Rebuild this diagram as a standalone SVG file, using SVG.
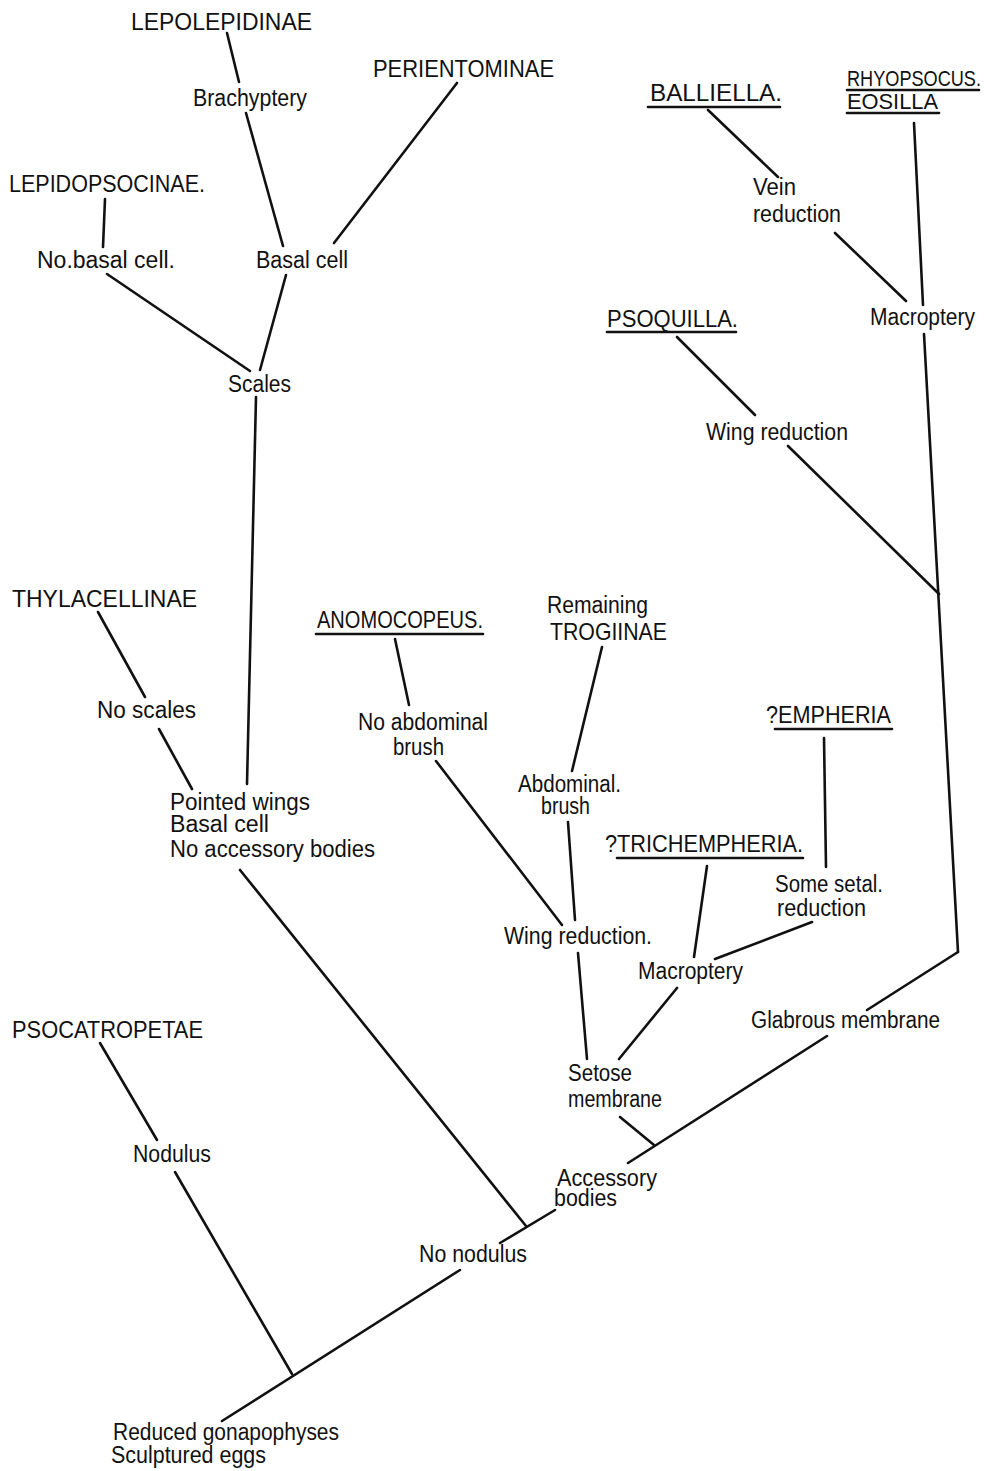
<svg xmlns="http://www.w3.org/2000/svg" width="998" height="1471" viewBox="0 0 998 1471">
<style>
text{font-family:"Liberation Sans","DejaVu Sans",sans-serif;fill:#111;}
.c{font-size:24px;}
.l{font-size:23px;}
.s{font-size:22px;}
.e line,.u{stroke:#111;stroke-width:2.6;stroke-linecap:round;fill:none;}
</style>
<rect width="998" height="1471" fill="#fff"/>
<g id="connectors" class="e">
<line x1="227" y1="33" x2="239" y2="82"/>
<line x1="246" y1="113" x2="283" y2="246"/>
<line x1="457" y1="83" x2="334" y2="243"/>
<line x1="105" y1="199" x2="103" y2="247"/>
<line x1="107" y1="274" x2="250" y2="371"/>
<line x1="286" y1="275" x2="260" y2="370"/>
<line x1="256" y1="397" x2="247" y2="784"/>
<line x1="708" y1="110" x2="778" y2="177"/>
<line x1="835" y1="233" x2="906" y2="301"/>
<line x1="914" y1="123" x2="923" y2="305"/>
<line x1="924" y1="334" x2="958" y2="952"/>
<line x1="677" y1="337" x2="755" y2="415"/>
<line x1="788" y1="446" x2="939" y2="594"/>
<line x1="98" y1="612" x2="145" y2="697"/>
<line x1="159" y1="729" x2="192" y2="789"/>
<line x1="395" y1="639" x2="409" y2="705"/>
<line x1="436" y1="761" x2="562" y2="925"/>
<line x1="602" y1="647" x2="572" y2="771"/>
<line x1="568" y1="822" x2="575" y2="920"/>
<line x1="578" y1="953" x2="587" y2="1059"/>
<line x1="824" y1="738" x2="826" y2="867"/>
<line x1="707" y1="866" x2="694" y2="957"/>
<line x1="812" y1="922" x2="715" y2="959"/>
<line x1="677" y1="988" x2="619" y2="1059"/>
<line x1="958" y1="952" x2="867" y2="1010"/>
<line x1="827" y1="1036" x2="628" y2="1163"/>
<line x1="620" y1="1117" x2="654" y2="1145"/>
<line x1="240" y1="870" x2="526" y2="1226"/>
<line x1="555" y1="1210" x2="500" y2="1243"/>
<line x1="460" y1="1270" x2="222" y2="1421"/>
<line x1="100" y1="1043" x2="157" y2="1140"/>
<line x1="175" y1="1172" x2="292" y2="1374"/>
</g>
<g id="lepolepidinae"><text class="c" x="131" y="30" textLength="181" lengthAdjust="spacingAndGlyphs">LEPOLEPIDINAE</text></g>
<g id="brachyptery"><text class="l" x="193" y="106" textLength="114" lengthAdjust="spacingAndGlyphs">Brachyptery</text></g>
<g id="perientominae"><text class="c" x="373" y="77" textLength="181" lengthAdjust="spacingAndGlyphs">PERIENTOMINAE</text></g>
<g id="lepidopsocinae"><text class="c" x="9" y="192" textLength="196" lengthAdjust="spacingAndGlyphs">LEPIDOPSOCINAE.</text></g>
<g id="no-basal-cell"><text class="l" x="37" y="268" textLength="138" lengthAdjust="spacingAndGlyphs">No.basal cell.</text></g>
<g id="basal-cell"><text class="l" x="256" y="268" textLength="92" lengthAdjust="spacingAndGlyphs">Basal cell</text></g>
<g id="scales"><text class="l" x="228" y="392" textLength="63" lengthAdjust="spacingAndGlyphs">Scales</text></g>
<g id="balliella"><text class="c" x="650" y="101" textLength="132" lengthAdjust="spacingAndGlyphs">BALLIELLA.</text><line class="u" x1="648" y1="107" x2="780" y2="107"/></g>
<g id="rhyopsocus-eosilla"><text class="s" x="847" y="86" textLength="134" lengthAdjust="spacingAndGlyphs">RHYOPSOCUS.</text><line class="u" x1="847" y1="90" x2="979" y2="90"/><text class="s" x="847" y="109" textLength="91" lengthAdjust="spacingAndGlyphs">EOSILLA</text><line class="u" x1="847" y1="113" x2="939" y2="113"/></g>
<g id="vein-reduction"><text class="l" x="753" y="195" textLength="43" lengthAdjust="spacingAndGlyphs">Vein</text><text class="l" x="753" y="222" textLength="88" lengthAdjust="spacingAndGlyphs">reduction</text></g>
<g id="macroptery-1"><text class="l" x="870" y="325" textLength="105" lengthAdjust="spacingAndGlyphs">Macroptery</text></g>
<g id="psoquilla"><text class="c" x="607" y="327" textLength="131" lengthAdjust="spacingAndGlyphs">PSOQUILLA.</text><line class="u" x1="607" y1="332" x2="736" y2="332"/></g>
<g id="wing-reduction-1"><text class="l" x="706" y="440" textLength="142" lengthAdjust="spacingAndGlyphs">Wing reduction</text></g>
<g id="thylacellinae"><text class="c" x="12" y="607" textLength="185" lengthAdjust="spacingAndGlyphs">THYLACELLINAE</text></g>
<g id="anomocopeus"><text class="c" x="317" y="628" textLength="166" lengthAdjust="spacingAndGlyphs">ANOMOCOPEUS.</text><line class="u" x1="316" y1="634" x2="483" y2="634"/></g>
<g id="trogiinae"><text class="l" x="547" y="613" textLength="101" lengthAdjust="spacingAndGlyphs">Remaining</text><text class="c" x="550" y="640" textLength="117" lengthAdjust="spacingAndGlyphs">TROGIINAE</text></g>
<g id="no-scales"><text class="l" x="97" y="718" textLength="99" lengthAdjust="spacingAndGlyphs">No scales</text></g>
<g id="no-abdominal-brush"><text class="l" x="358" y="730" textLength="130" lengthAdjust="spacingAndGlyphs">No abdominal</text><text class="l" x="393" y="755" textLength="51" lengthAdjust="spacingAndGlyphs">brush</text></g>
<g id="empheria"><text class="c" x="766" y="723" textLength="125" lengthAdjust="spacingAndGlyphs">?EMPHERIA</text><line class="u" x1="775" y1="729" x2="892" y2="729"/></g>
<g id="abdominal-brush"><text class="l" x="518" y="792" textLength="103" lengthAdjust="spacingAndGlyphs">Abdominal.</text><text class="l" x="541" y="814" textLength="49" lengthAdjust="spacingAndGlyphs">brush</text></g>
<g id="pointed-wings"><text class="l" x="170" y="810" textLength="140" lengthAdjust="spacingAndGlyphs">Pointed wings</text><text class="l" x="170" y="832" textLength="99" lengthAdjust="spacingAndGlyphs">Basal cell</text><text class="l" x="170" y="857" textLength="205" lengthAdjust="spacingAndGlyphs">No accessory bodies</text></g>
<g id="trichempheria"><text class="c" x="605" y="852" textLength="198" lengthAdjust="spacingAndGlyphs">?TRICHEMPHERIA.</text><line class="u" x1="617" y1="858" x2="803" y2="858"/></g>
<g id="some-setal-reduction"><text class="l" x="775" y="892" textLength="108" lengthAdjust="spacingAndGlyphs">Some setal.</text><text class="l" x="777" y="916" textLength="89" lengthAdjust="spacingAndGlyphs">reduction</text></g>
<g id="wing-reduction-2"><text class="l" x="504" y="944" textLength="148" lengthAdjust="spacingAndGlyphs">Wing reduction.</text></g>
<g id="macroptery-2"><text class="l" x="638" y="979" textLength="105" lengthAdjust="spacingAndGlyphs">Macroptery</text></g>
<g id="glabrous-membrane"><text class="l" x="751" y="1028" textLength="189" lengthAdjust="spacingAndGlyphs">Glabrous membrane</text></g>
<g id="psocatropetae"><text class="c" x="12" y="1038" textLength="191" lengthAdjust="spacingAndGlyphs">PSOCATROPETAE</text></g>
<g id="setose-membrane"><text class="l" x="568" y="1081" textLength="64" lengthAdjust="spacingAndGlyphs">Setose</text><text class="l" x="568" y="1107" textLength="94" lengthAdjust="spacingAndGlyphs">membrane</text></g>
<g id="nodulus"><text class="l" x="133" y="1162" textLength="78" lengthAdjust="spacingAndGlyphs">Nodulus</text></g>
<g id="accessory-bodies"><text class="l" x="557" y="1186" textLength="100" lengthAdjust="spacingAndGlyphs">Accessory</text><text class="l" x="554" y="1206" textLength="63" lengthAdjust="spacingAndGlyphs">bodies</text></g>
<g id="no-nodulus"><text class="l" x="419" y="1262" textLength="108" lengthAdjust="spacingAndGlyphs">No nodulus</text></g>
<g id="root"><text class="l" x="113" y="1440" textLength="226" lengthAdjust="spacingAndGlyphs">Reduced gonapophyses</text><text class="l" x="111" y="1463" textLength="155" lengthAdjust="spacingAndGlyphs">Sculptured eggs</text></g>
</svg>
